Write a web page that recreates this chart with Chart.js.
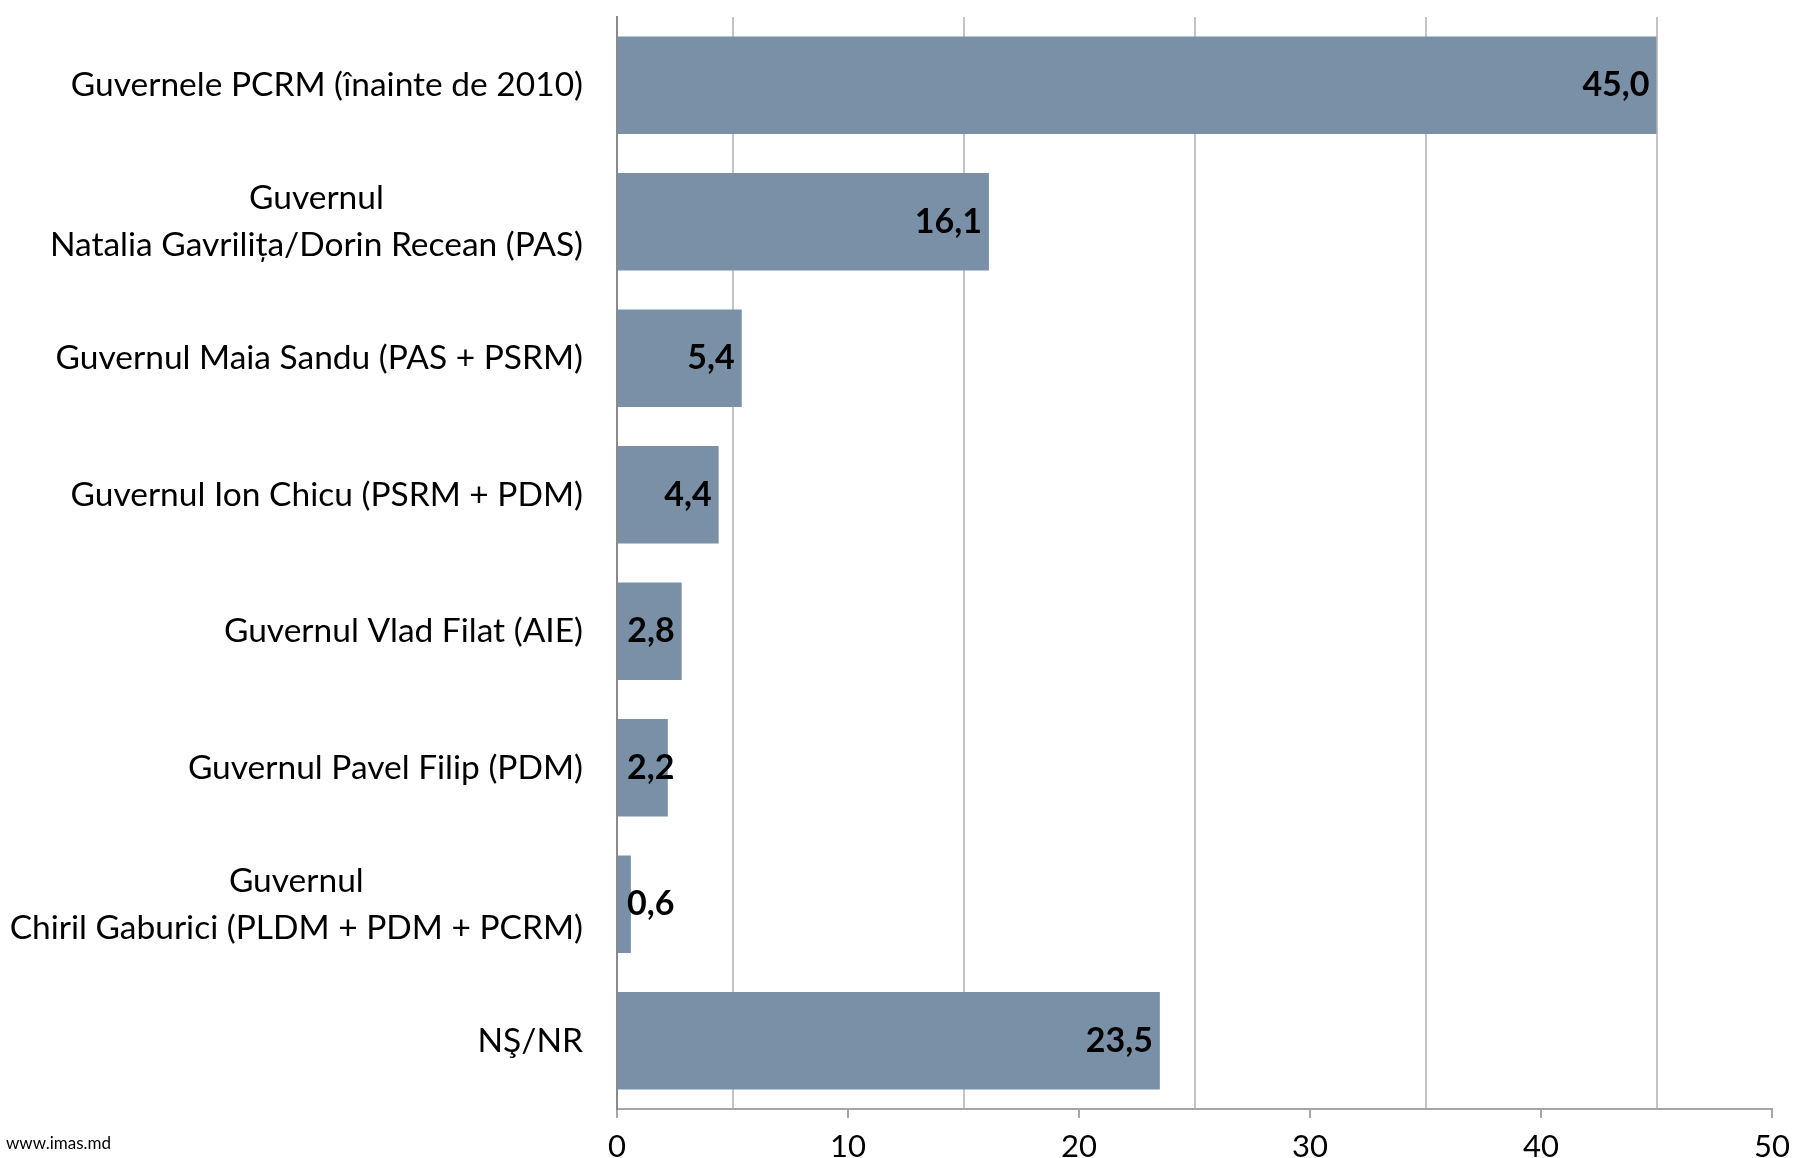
<!DOCTYPE html>
<html><head><meta charset="utf-8">
<script src="https://cdn.jsdelivr.net/npm/chart.js@4"></script>
<style>
html,body{margin:0;padding:0;background:#fff;width:1795px;height:1158px;overflow:hidden}
#wrap{position:relative;width:1795px;height:1158px}
#src{position:absolute;left:6px;top:1132px;font:17px Lato, sans-serif;color:#000}
</style></head><body>
<div id="wrap"><canvas id="c" width="1795" height="1158"></canvas><div id="src">www.imas.md</div></div>
<script>
const categories = [
  ['Guvernele PCRM (înainte de 2010)'],
  ['Guvernul', 'Natalia Gavrilița/Dorin Recean (PAS)'],
  ['Guvernul Maia Sandu (PAS + PSRM)'],
  ['Guvernul Ion Chicu (PSRM + PDM)'],
  ['Guvernul Vlad Filat (AIE)'],
  ['Guvernul Pavel Filip (PDM)'],
  ['Guvernul', 'Chiril Gaburici (PLDM + PDM + PCRM)'],
  ['NŞ/NR']
];
const values = [45.0, 16.1, 5.4, 4.4, 2.8, 2.2, 0.6, 23.5];
const xTickLabels = [0, 10, 20, 30, 40, 50];

const FONT = 'Lato, "Open Sans", sans-serif';
const LABEL_SIZE = 33.5;

const catLabels = {
  id: 'catLabels',
  afterDraw(chart) {
    const ctx = chart.ctx, ys = chart.scales.y;
    ctx.save();
    ctx.font = LABEL_SIZE + 'px ' + FONT;
    ctx.fillStyle = '#000';
    ctx.textAlign = 'center';
    ctx.textBaseline = 'middle';
    const rightEdge = ys.right - 34;
    const lh = 47;
    categories.forEach((lines, i) => {
      const y = ys.getPixelForValue(i);
      const maxW = Math.max(...lines.map(l => ctx.measureText(l).width));
      const cx = rightEdge - maxW / 2;
      const y0 = y - (lines.length - 1) * lh / 2;
      lines.forEach((l, k) => ctx.fillText(l, cx, y0 + k * lh));
    });
    ctx.restore();
  }
};

const valueLabels = {
  id: 'valueLabels',
  afterDatasetsDraw(chart) {
    const ctx = chart.ctx;
    const meta = chart.getDatasetMeta(0);
    ctx.save();
    ctx.font = 'bold 34px ' + FONT;
    ctx.fillStyle = '#000';
    ctx.textBaseline = 'middle';
    meta.data.forEach((el, i) => {
      const txt = values[i].toFixed(1).replace('.', ',');
      const w = ctx.measureText(txt).width;
      let x = el.x - 7;
      if (x - w < el.base + 9) {
        ctx.textAlign = 'left';
        ctx.fillText(txt, el.base + 9, el.y);
      } else {
        ctx.textAlign = 'right';
        ctx.fillText(txt, x, el.y);
      }
    });
    ctx.restore();
  }
};

new Chart(document.getElementById('c'), {
  type: 'bar',
  data: {
    labels: categories.map(l => l.join(' ')),
    datasets: [{
      data: values,
      backgroundColor: '#7990a7',
      borderWidth: 0,
      categoryPercentage: 1,
      barPercentage: 0.713
    }]
  },
  options: {
    indexAxis: 'y',
    responsive: false,
    animation: false,
    events: [],
    layout: { padding: { top: 17, right: 23, left: 0, bottom: 0 } },
    plugins: { legend: { display: false }, tooltip: { enabled: false } },
    scales: {
      x: {
        type: 'linear',
        min: 0, max: 50,
        afterFit(s) { s.height = 49; s.paddingRight = 0; s.paddingLeft = 0; },
        ticks: {
          stepSize: 5,
          autoSkip: false,
          maxRotation: 0,
          color: '#000',
          font: { family: FONT, size: 31 },
          padding: 10,
          callback: v => xTickLabels.includes(v) ? String(v) : ''
        },
        grid: {
          lineWidth: 2,
          tickLength: 9,
          color: c => (c.tick && c.tick.value % 10 === 5) ? '#c4c4c4' : 'rgba(0,0,0,0)',
          tickColor: c => (c.tick && xTickLabels.includes(c.tick.value)) ? '#a6a6a6' : 'rgba(0,0,0,0)'
        },
        border: { color: '#a6a6a6', width: 2 }
      },
      y: {
        type: 'category',
        afterFit(s) { s.width = 617; },
        ticks: { display: false },
        grid: { display: false },
        border: { color: '#8a8a8a', width: 2 }
      }
    }
  },
  plugins: [catLabels, valueLabels]
});
</script>
</body></html>
